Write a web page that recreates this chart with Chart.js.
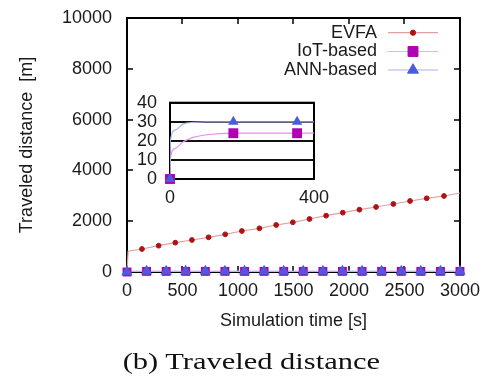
<!DOCTYPE html>
<html><head><meta charset="utf-8">
<script src="https://cdn.jsdelivr.net/npm/chart.js@4/dist/chart.umd.min.js"></script>
<style>
html,body{margin:0;padding:0;background:#fff;}
#wrap{position:relative;width:488px;height:379px;overflow:hidden;background:#fff;}
#main{position:absolute;left:0;top:0;width:488px;height:379px;}
#inset{position:absolute;left:120px;top:85px;width:220px;height:125px;}
#cap{position:absolute;left:7px;width:488px;top:349px;text-align:center;font-family:"Liberation Serif","Times New Roman",serif;font-size:24px;line-height:24px;color:#111;white-space:nowrap;}
#cap span{display:inline-block;transform:scaleX(1.27);}
</style></head>
<body><div id="wrap">
<canvas id="main" width="488" height="379"></canvas>
<canvas id="inset" width="220" height="125"></canvas>
<div id="cap"><span>(b) Traveled distance</span></div>
</div>
<script>
// ---- data ----
const seriesNames = ['EVFA', 'IoT-based', 'ANN-based'];
const xTickLabels = ['0', '500', '1000', '1500', '2000', '2500', '3000'];
const yTickLabels = ['0', '2000', '4000', '6000', '8000', '10000'];
const insetXTickLabels = ['0', '400'];
const insetYTickLabels = ['0', '10', '20', '30', '40'];

// EVFA curve (first two and last points are line-only, the rest carry markers)
const evfaTime  = [0, 10, 135, 285, 435, 585, 735, 885, 1035, 1193, 1344, 1494, 1644, 1794, 1944, 2094, 2244, 2400, 2550, 2700, 2856, 3000];
const evfaValue = [0, 820, 905, 1035, 1154, 1260, 1366, 1484, 1614, 1720, 1850, 1957, 2087, 2217, 2335, 2453, 2559, 2677, 2795, 2902, 2992, 3110];

// marker times shared by IoT-based and ANN-based
const markerTime = [0, 176, 353, 529, 706, 882, 1059, 1235, 1412, 1588, 1765, 1941, 2118, 2294, 2471, 2647, 2824, 3000];

const iotTime  = [0, 1, 14, 37, 65, 102, 176, 353, 529, 706, 882, 1059, 1235, 1412, 1588, 1765, 1941, 2118, 2294, 2471, 2647, 2824, 3000];
const iotValue = [0, 10.5, 16, 19.5, 21.8, 23.2, 24, 24, 24, 24, 24, 24, 24, 24, 24, 24, 24, 24, 24, 24, 24, 24, 24];

const annTime  = [0, 1, 14, 37, 65, 102, 176, 353, 529, 706, 882, 1059, 1235, 1412, 1588, 1765, 1941, 2118, 2294, 2471, 2647, 2824, 3000];
const annValue = [0, 20, 25.6, 28.9, 29.7, 30, 30, 30, 30, 30, 30, 30, 30, 30, 30, 30, 30, 30, 30, 30, 30, 30, 30];

// ---- styles ----
const C = {
  evfaLine: '#e3a0a0', evfaMark: '#b01212',
  iotLine: '#eeaaee', iotMark: '#b000b4',
  annLine: '#aab2f2', annMark: '#4a5cdc'
};
const FONT = "'Liberation Sans', Arial, sans-serif";
Chart.defaults.font.family = FONT;
Chart.defaults.font.size = 18;
Chart.defaults.color = '#1a1a1a';

function pts(t, v, maxT) {
  const out = [];
  for (let i = 0; i < t.length; i++) if (maxT === undefined || t[i] <= maxT) out.push({x: t[i], y: v[i]});
  return out;
}
function markerPts(t, v, maxT) {
  const out = [];
  for (let i = 0; i < t.length; i++) if (markerTime.includes(t[i]) && (maxT === undefined || t[i] <= maxT)) out.push({x: t[i], y: v[i]});
  return out;
}
function labelsFrom(list) { return (v) => { const s = String(v); return list.includes(s) ? s : ''; }; }

// ---- main chart plugin: frame, inward ticks, legend ----
const mainDeco = {
  id: 'mainDeco',
  beforeDatasetsDraw(chart) {
    const {ctx, chartArea: a, scales: {x, y}} = chart;
    ctx.save();
    ctx.strokeStyle = '#000'; ctx.lineWidth = 2;
    ctx.strokeRect(a.left, a.top, a.right - a.left, a.bottom - a.top);
    ctx.lineWidth = 1.5;
    ctx.beginPath();
    y.ticks.forEach(t => {
      const py = Math.round(y.getPixelForValue(t.value));
      ctx.moveTo(a.left, py); ctx.lineTo(a.left + 6, py);
      ctx.moveTo(a.right, py); ctx.lineTo(a.right - 6, py);
    });
    x.ticks.forEach(t => {
      const px = Math.round(x.getPixelForValue(t.value));
      ctx.moveTo(px, a.top); ctx.lineTo(px, a.top + 6);
      ctx.moveTo(px, a.bottom); ctx.lineTo(px, a.bottom - 6);
    });
    ctx.stroke();
    ctx.restore();
  },
  afterDraw(chart) {
    const {ctx} = chart;
    const rows = [
      {name: seriesNames[0], line: C.evfaLine, mark: C.evfaMark, style: 'circle', r: 2.6},
      {name: seriesNames[1], line: C.iotLine, mark: C.iotMark, style: 'rect', r: 7},
      {name: seriesNames[2], line: C.annLine, mark: C.annMark, style: 'triangle', r: 6.3}
    ];
    const ys = [32.7, 51.5, 70];
    ctx.save();
    ctx.font = '18px ' + FONT;
    ctx.textAlign = 'right'; ctx.textBaseline = 'middle';
    rows.forEach((r, i) => {
      const yy = ys[i];
      ctx.fillStyle = '#1a1a1a';
      ctx.fillText(r.name, 377, yy);
      ctx.strokeStyle = r.line; ctx.lineWidth = 1.2;
      ctx.beginPath(); ctx.moveTo(388, yy); ctx.lineTo(438, yy); ctx.stroke();
      ctx.fillStyle = r.mark; ctx.strokeStyle = r.mark; ctx.lineWidth = 1;
      Chart.helpers.drawPoint(ctx, {pointStyle: r.style, radius: r.r, rotation: 0, borderWidth: 1}, 413, yy);
    });
    ctx.restore();
  }
};

new Chart(document.getElementById('main'), {
  type: 'scatter',
  data: {
    datasets: [
      {label: seriesNames[0], data: pts(evfaTime, evfaValue), showLine: true, borderColor: C.evfaLine, borderWidth: 1.2,
       backgroundColor: C.evfaMark, pointBorderColor: C.evfaMark, pointStyle: 'circle',
       pointRadius: (c) => (c.dataIndex < 2 || c.dataIndex === evfaTime.length - 1) ? 0 : 2.4, pointBorderWidth: 1, order: 2, clip: false},
      {label: seriesNames[1] + ' line', data: pts(iotTime, iotValue), showLine: true, borderColor: C.iotLine, borderWidth: 1.2, pointRadius: 0, order: 4, cubicInterpolationMode: 'monotone'},
      {label: seriesNames[2] + ' line', data: pts(annTime, annValue), showLine: true, borderColor: C.annLine, borderWidth: 1.2, pointRadius: 0, order: 3, cubicInterpolationMode: 'monotone'},
      {label: seriesNames[1], data: markerPts(iotTime, iotValue), showLine: false, pointStyle: 'rect', pointRadius: 6.3,
       backgroundColor: C.iotMark, borderColor: C.iotMark, pointBorderWidth: 0, order: 1, clip: false},
      {label: seriesNames[2], data: markerPts(annTime, annValue), showLine: false, pointStyle: 'triangle', pointRadius: 6.5,
       backgroundColor: C.annMark, borderColor: C.annMark, pointBorderWidth: 0, order: 0, clip: false}
    ]
  },
  options: {
    responsive: false, animation: false, devicePixelRatio: 1,
    layout: {padding: {top: 18, right: 28, bottom: 45, left: 0}},
    plugins: {legend: {display: false}, tooltip: {enabled: false}},
    scales: {
      x: {type: 'linear', min: 0, max: 3000,
          ticks: {stepSize: 500, padding: 8, maxRotation: 0, autoSkip: false, callback: labelsFrom(xTickLabels)},
          grid: {display: false, drawTicks: false}, border: {display: false},
          title: {display: true, text: 'Simulation time [s]', padding: {top: 0, bottom: 2}},
          afterFit(s) { s.height = 62; }},
      y: {type: 'linear', min: 0, max: 10000,
          ticks: {stepSize: 2000, padding: 15, autoSkip: false, callback: labelsFrom(yTickLabels)},
          grid: {display: false, drawTicks: false}, border: {display: false},
          title: {display: true, text: 'Traveled distance  [m]', padding: {top: 16, bottom: 0}},
          afterFit(s) { s.width = 127; s.paddingTop = 10; s.paddingBottom = 10; }}
    }
  },
  plugins: [mainDeco]
});

// ---- inset ----
const INSET_MAX = 400;
const insetDeco = {
  id: 'insetDeco',
  beforeDraw(chart) {
    const {ctx, chartArea: a} = chart;
    ctx.save(); ctx.fillStyle = '#fff';
    ctx.fillRect(a.left, a.top, a.right - a.left, a.bottom - a.top);
    ctx.restore();
  },
  beforeDatasetsDraw(chart) {
    const {ctx, chartArea: a} = chart;
    ctx.save(); ctx.strokeStyle = '#000'; ctx.lineWidth = 2;
    ctx.strokeRect(a.left, a.top, a.right - a.left, a.bottom - a.top);
    ctx.restore();
  }
};

new Chart(document.getElementById('inset'), {
  type: 'scatter',
  data: {
    datasets: [
      {data: pts(iotTime, iotValue), showLine: true, borderColor: '#e890e8', borderWidth: 1.2, pointRadius: 0, order: 4, cubicInterpolationMode: 'monotone'},
      {data: pts(annTime, annValue), showLine: true, borderColor: '#a8b0f0', borderWidth: 1.2, pointRadius: 0, order: 3, cubicInterpolationMode: 'monotone'},
      {data: markerPts(iotTime, iotValue, INSET_MAX), showLine: false, pointStyle: 'rect', pointRadius: 7,
       backgroundColor: C.iotMark, borderColor: C.iotMark, pointBorderWidth: 0, order: 1, clip: false},
      {data: markerPts(annTime, annValue, INSET_MAX), showLine: false, pointStyle: 'triangle', pointRadius: 6,
       backgroundColor: C.annMark, borderColor: C.annMark, pointBorderWidth: 0, order: 0, clip: false}
    ]
  },
  options: {
    responsive: false, animation: false, devicePixelRatio: 1,
    layout: {padding: {top: 17.7, right: 26, bottom: 0, left: 0}},
    plugins: {legend: {display: false}, tooltip: {enabled: false}},
    scales: {
      x: {type: 'linear', min: 0, max: INSET_MAX,
          ticks: {stepSize: 400, padding: 8, maxRotation: 0, autoSkip: false, callback: labelsFrom(insetXTickLabels)},
          grid: {display: false, drawTicks: false}, border: {display: false},
          afterFit(s) { s.height = 31; }},
      y: {type: 'linear', min: 0, max: 40,
          ticks: {stepSize: 10, padding: 13, autoSkip: false, callback: labelsFrom(insetYTickLabels)},
          grid: {display: true, drawTicks: false, color: '#111', lineWidth: 2}, border: {display: false},
          afterFit(s) { s.width = 50; s.paddingTop = 10; s.paddingBottom = 10; }}
    }
  },
  plugins: [insetDeco]
});
</script>
</body></html>
